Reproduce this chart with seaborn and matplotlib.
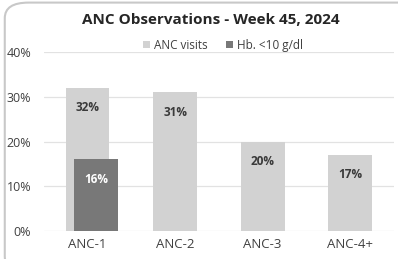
import matplotlib
matplotlib.use("Agg")
import matplotlib.pyplot as plt
import seaborn as sns
from matplotlib.patches import FancyBboxPatch

# data
categories = ["ANC-1", "ANC-2", "ANC-3", "ANC-4+"]
anc_visits = [32, 31, 20, 17]
hb_categories = ["ANC-1"]
hb_low = [16]

sns.set_style("white")
plt.rcParams["font.family"] = ["Open Sans", "DejaVu Sans"]

fig = plt.figure(figsize=(3.98, 2.59), dpi=100)
fig.patch.set_facecolor("white")
# rounded card border like the screenshot
fig.patches.append(FancyBboxPatch((0.012, -0.05), 1.05, 1.04,
                                  boxstyle="round,pad=0,rounding_size=0.06",
                                  transform=fig.transFigure, facecolor="none",
                                  edgecolor="#c8c8c8", linewidth=1.5, zorder=0))
ax = fig.add_axes([0.11, 0.108, 0.88, 0.691])

light = "#d2d2d2"
dark = "#787878"

sns.barplot(x=categories, y=anc_visits, order=categories, color=light,
            width=0.5, saturation=1, linewidth=0, ax=ax, label="ANC visits", zorder=2)
n_light = len(ax.patches)
sns.barplot(x=hb_categories, y=hb_low, order=categories, color=dark,
            width=0.5, saturation=1, linewidth=0, ax=ax, label="Hb. <10 g/dl", zorder=3)
for p in ax.patches[n_light:]:
    p.set_x(p.get_x() + 0.1)

ax.bar_label(ax.containers[0], fmt="%d%%", padding=-19, fontsize=8.5,
             fontweight="bold", color="#3a3a3a", zorder=4)
ax.bar_label(ax.containers[1], fmt="%d%%", padding=-19, fontsize=8.5,
             fontweight="bold", color="white", zorder=4)

ax.set_ylim(0, 40)
ax.set_xlim(-0.5, 3.5)
ax.set_yticks([0, 10, 20, 30, 40])
ax.set_yticklabels(["0%", "10%", "20%", "30%", "40%"])
ax.yaxis.grid(True, color="#e2e2e2", linewidth=0.9, zorder=0)
ax.set_axisbelow(True)
ax.tick_params(axis="both", length=0, colors="#404040")
ax.tick_params(axis="y", pad=9, labelsize=9)
ax.tick_params(axis="x", pad=5, labelsize=9.5)
ax.set_xlabel("")
ax.set_ylabel("")
sns.despine(ax=ax, left=True, bottom=True)

fig.text(0.53, 0.923, "ANC Observations - Week 45, 2024", ha="center", va="center",
         fontsize=11, fontweight="bold", color="#262626")
handles, labels = ax.get_legend_handles_labels()
if ax.get_legend():
    ax.get_legend().remove()
fig.legend(handles, labels, loc="center", bbox_to_anchor=(0.56, 0.826),
           ncol=2, frameon=False, fontsize=8.5, handlelength=0.6, handleheight=0.6,
           handletextpad=0.3, columnspacing=1.6, labelcolor="#404040")

fig.savefig("out.png", dpi=100)
